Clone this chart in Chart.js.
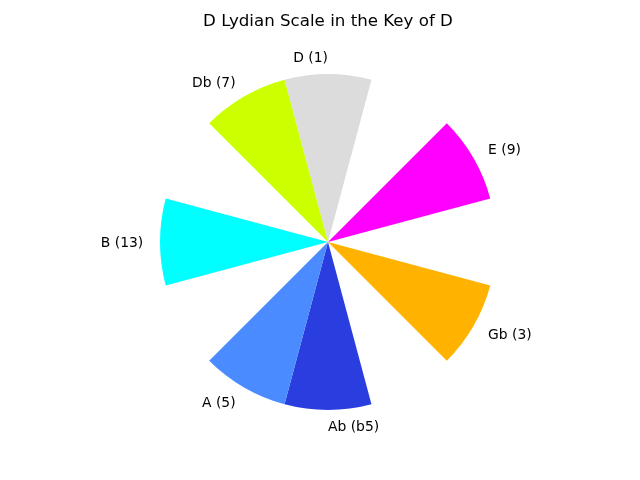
<!DOCTYPE html>
<html>
<head>
<meta charset="utf-8">
<script src="https://cdn.jsdelivr.net/npm/chart.js@4"></script>
<style>
html,body{margin:0;padding:0;background:#fff;}
canvas{display:block;}
</style>
</head>
<body>
<canvas id="c" width="640" height="480"></canvas>
<script>
// Clockwise from the top: 12 semitones, empty labels are gaps
const notes = ["D (1)", "", "E (9)", "", "Gb (3)", "", "Ab (b5)", "A (5)", "", "B (13)", "", "Db (7)"];
const sizes = [1, 1, 1, 1, 1, 1, 1, 1, 1, 1, 1, 1];
const colors = ["#dcdcdc", "rgba(0,0,0,0)", "#ff00ff", "rgba(0,0,0,0)", "#ffb300", "rgba(0,0,0,0)",
                "#2a3ee0", "#4a8cff", "rgba(0,0,0,0)", "#00ffff", "rgba(0,0,0,0)", "#ccff00"];
const chartTitle = "D Lydian Scale in the Key of D";

const labelPlugin = {
  id: 'pieLabels',
  afterDraw(chart) {
    const ctx = chart.ctx;
    ctx.save();
    ctx.fillStyle = '#000';
    ctx.font = '16.67px "DejaVu Sans"';
    ctx.textAlign = 'center';
    ctx.textBaseline = 'middle';
    ctx.fillText(chartTitle, 328, 22);
    ctx.font = '13.89px "DejaVu Sans"';
    const meta = chart.getDatasetMeta(0);
    meta.data.forEach((arc, i) => {
      const txt = notes[i];
      if (!txt) return;
      const p = arc.getProps(['startAngle', 'endAngle', 'outerRadius', 'x', 'y'], true);
      const mid = (p.startAngle + p.endAngle) / 2;
      let cx = Math.cos(mid), sy = Math.sin(mid);
      const r = p.outerRadius * 1.1;
      const x = p.x + r * cx, y = p.y + r * sy + 1;
      if (Math.abs(cx) < 1e-6) cx = (sy < 0) ? -1 : 1;
      ctx.textAlign = cx > 0 ? 'left' : 'right';
      ctx.textBaseline = 'middle';
      ctx.fillText(txt, x, y);
    });
    ctx.restore();
  }
};

new Chart(document.getElementById('c'), {
  type: 'pie',
  data: {
    labels: notes,
    datasets: [{
      data: sizes,
      backgroundColor: colors,
      borderWidth: 0,
      hoverOffset: 0
    }]
  },
  options: {
    responsive: false,
    animation: false,
    rotation: -15,
    layout: { padding: { left: 160, right: 144, top: 74, bottom: 70 } },
    plugins: {
      legend: { display: false },
      tooltip: { enabled: false },
      title: { display: false }
    },
    events: []
  },
  plugins: [labelPlugin]
});
</script>
</body>
</html>
